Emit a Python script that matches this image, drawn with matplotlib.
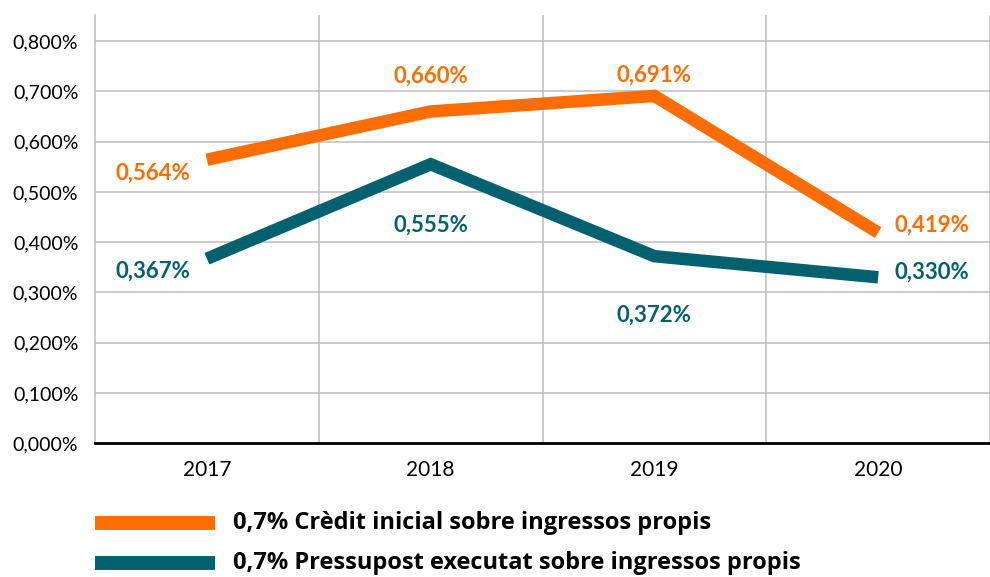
import matplotlib
matplotlib.use("Agg")
import matplotlib.pyplot as plt
import matplotlib.transforms as mtransforms

years = ["2017", "2018", "2019", "2020"]
credit = [0.564, 0.660, 0.691, 0.419]
executed = [0.367, 0.555, 0.372, 0.330]
series_names = ["0,7% Crèdit inicial sobre ingressos propis",
                "0,7% Pressupost executat sobre ingressos propis"]
yticks = [0.0, 0.1, 0.2, 0.3, 0.4, 0.5, 0.6, 0.7, 0.8]

ORANGE = "#FF6C00"
TEAL = "#02616F"
GRID = "#BDBDBD"

plt.rcParams["font.family"] = ["Lato", "DejaVu Sans"]


def pct(v):
    return f"{v:.3f}".replace(".", ",") + "%"


fig = plt.figure(figsize=(9.9, 5.77), dpi=100)
ax = fig.add_axes([0.096, 0.232, 0.904, 0.742])

x = list(range(len(years)))
ax.plot(x, credit, color=ORANGE, lw=9, solid_capstyle="butt", solid_joinstyle="miter", zorder=3)
ax.plot(x, executed, color=TEAL, lw=9, solid_capstyle="butt", solid_joinstyle="miter", zorder=3)

ax.set_xlim(-0.5, 3.455)
ax.set_ylim(0, 0.852)

# data labels: (dx points, dy points, ha, va)
credit_pos = [(-12, -10, "right", "center"), (0, 18, "center", "bottom"),
              (0, 7, "center", "bottom"), (12, 5, "left", "center")]
exec_pos = [(-12, -9, "right", "center"), (0, -36, "center", "top"),
            (0, -35, "center", "top"), (12, 4, "left", "center")]
for i, (v, p) in enumerate(zip(credit, credit_pos)):
    ax.annotate(pct(v), (i, v), xytext=(p[0], p[1]), textcoords="offset points",
                ha=p[2], va=p[3], color=ORANGE, fontsize=16, fontweight="bold")
for i, (v, p) in enumerate(zip(executed, exec_pos)):
    ax.annotate(pct(v), (i, v), xytext=(p[0], p[1]), textcoords="offset points",
                ha=p[2], va=p[3], color=TEAL, fontsize=16, fontweight="bold")

ax.set_yticks(yticks)
ax.set_yticklabels([pct(v) for v in yticks], fontsize=14)
offset = mtransforms.ScaledTranslation(0, 6 / 72, fig.dpi_scale_trans)
for lab in ax.get_yticklabels():
    lab.set_transform(lab.get_transform() + offset)
ax.set_xticks(x)
ax.set_xticklabels(years, fontsize=15)
ax.set_xticks([0.5, 1.5, 2.5, 3.5], minor=True)
ax.tick_params(axis="both", which="both", length=0)
ax.tick_params(axis="x", pad=12)
ax.tick_params(axis="y", pad=12)

ax.grid(axis="y", which="major", color=GRID, lw=1.1)
ax.grid(axis="x", which="minor", color=GRID, lw=1.1)
ax.grid(axis="x", which="major", visible=False)
ax.set_axisbelow(True)

for s in ["top", "right"]:
    ax.spines[s].set_visible(False)
ax.spines["left"].set_color(GRID)
ax.spines["left"].set_linewidth(1.1)
ax.spines["bottom"].set_color("black")
ax.spines["bottom"].set_linewidth(2)
ax.spines["bottom"].set_zorder(4)

# legend drawn below the axes
leg_y = [0.094, 0.024]
for name, col, ly in zip(series_names, [ORANGE, TEAL], leg_y):
    fig.add_artist(plt.Line2D([0.096, 0.217], [ly, ly], color=col, lw=10,
                              solid_capstyle="butt", transform=fig.transFigure))
    fig.text(0.235, ly, name, fontsize=17, fontweight="bold", va="center", ha="left",
             family=["Open Sans", "DejaVu Sans"])

fig.savefig("out.png", dpi=100)
